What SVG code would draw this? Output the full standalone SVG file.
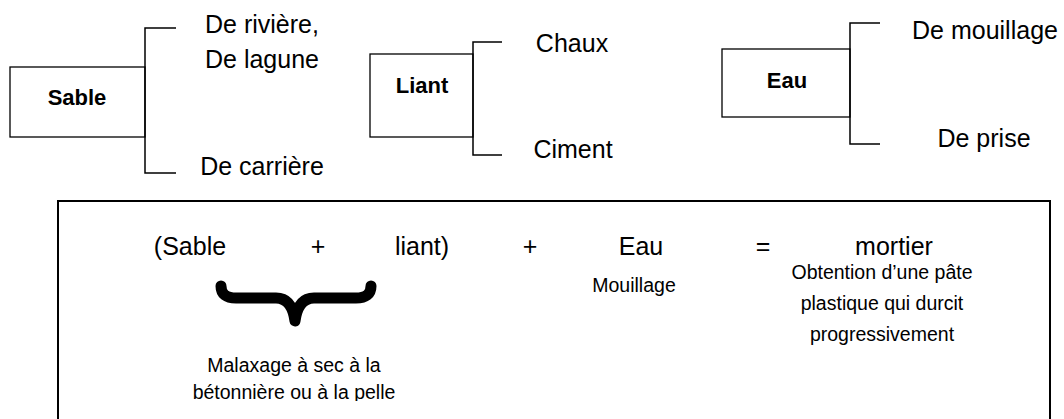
<svg xmlns="http://www.w3.org/2000/svg" width="1064" height="419" viewBox="0 0 1064 419">
<defs>
<style>
.box{fill:#fff;stroke:#000;stroke-width:1.3}
.br{fill:none;stroke:#000;stroke-width:1.5}
.t{font-family:"Liberation Sans",Arial,sans-serif;font-size:25px;fill:#000;text-anchor:middle}
.b{font-family:"Liberation Sans",Arial,sans-serif;font-size:22px;font-weight:bold;fill:#000;text-anchor:middle}
.s{font-family:"Liberation Sans",Arial,sans-serif;font-size:19.5px;fill:#000;text-anchor:middle}
</style>
<clipPath id="cut"><rect x="0" y="0" width="1064" height="401"/></clipPath>
</defs>
<rect width="1064" height="419" fill="#fff"/>
<g id="sable">
<rect class="box" x="10" y="67" width="135" height="70"/>
<text class="b" x="77" y="105">Sable</text>
</g>
<g id="sable-riviere"><text class="t" x="262" y="33">De rivière,</text><text class="t" x="262" y="68">De  lagune</text></g>
<g id="sable-carriere"><text class="t" x="262" y="175">De carrière</text></g>
<g id="liant">
<rect class="box" x="370" y="54" width="103" height="83"/>
<text class="b" x="422" y="93">Liant</text>
</g>
<g id="liant-chaux"><text class="t" x="572" y="52">Chaux</text></g>
<g id="liant-ciment"><text class="t" x="573" y="158">Ciment</text></g>
<g id="eau">
<rect class="box" x="722" y="49" width="128" height="68"/>
<text class="b" x="787" y="88">Eau</text>
</g>
<g id="eau-mouillage"><text class="t" x="985" y="39">De mouillage</text></g>
<g id="eau-prise"><text class="t" x="984" y="147">De prise</text></g>
<g id="connectors">
<path class="br" d="M176,28 H145 V173 H176"/>
<path class="br" d="M502,42 H473 V155 H502"/>
<path class="br" d="M880,23 H850 V144 H880"/>
</g>
<g id="formule">
<path d="M58,420 V201 H1050 V420" fill="none" stroke="#000" stroke-width="2"/>
<text class="t" x="190" y="255">(Sable</text>
<text class="t" x="318" y="255">+</text>
<text class="t" x="422" y="255">liant)</text>
<text class="t" x="530" y="255">+</text>
<text class="t" x="641" y="255">Eau</text>
<text class="t" x="763" y="255">=</text>
<text class="t" x="894" y="255">mortier</text>
<path d="M221,286 Q221,298 236,298 H276 Q292,298 295,321 Q298,298 314,298 H356 Q371,298 371,286" fill="none" stroke="#000" stroke-width="11" stroke-linecap="round" stroke-linejoin="round"/>
<text class="s" x="634" y="292">Mouillage</text>
<text class="s" x="882" y="279">Obtention d’une pâte</text>
<text class="s" x="882" y="310">plastique qui durcit</text>
<text class="s" x="882" y="341">progressivement</text>
<g clip-path="url(#cut)">
<text class="s" x="294" y="372">Malaxage à sec à la</text>
<text class="s" x="294" y="399">bétonnière ou à la pelle</text>
</g>
</g>
</svg>
